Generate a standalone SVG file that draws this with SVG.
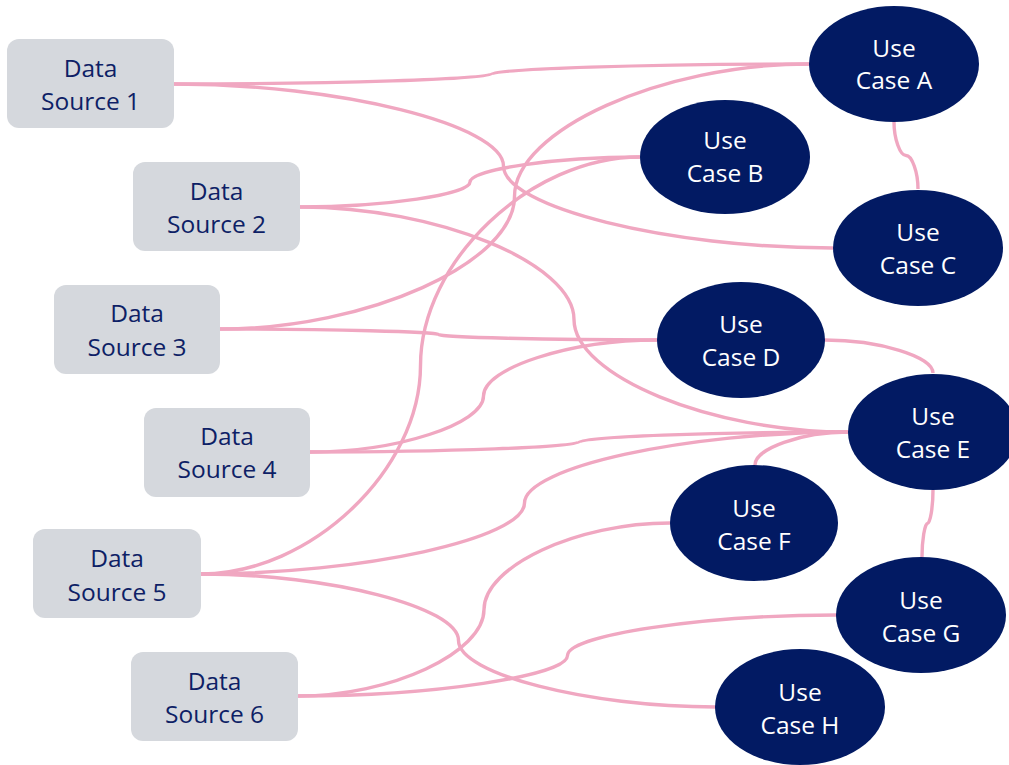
<svg xmlns="http://www.w3.org/2000/svg" width="1009" height="765" viewBox="0 0 1009 765">
<style>
.ds rect{fill:#D5D8DD}
.ds text{fill:#0E1F66;font-family:"Open Sans","Liberation Sans",sans-serif;font-size:24.5px;text-anchor:middle}
.uc ellipse{fill:#021A63}
.uc text{fill:#FFFFFF;font-family:"Open Sans","Liberation Sans",sans-serif;font-size:24.5px;text-anchor:middle}
#connectors path{fill:none;stroke:#F0A7C1;stroke-width:3.4}
</style>
<rect width="1009" height="765" fill="#FFFFFF"/>
<g id="connectors">
<path d="M174,84 C332.75,84 491.5,79 491.5,74 C491.5,69 650.25,64 809,64"/>
<path d="M174,84 C338.75,84 503.5,125 503.5,166 C503.5,207 668.25,248 833,248"/>
<path d="M300,207 C385,207 470,194.5 470,182 C470,169.5 555,157 640,157"/>
<path d="M300,207 C437,207 574,263.25 574,319.5 C574,375.75 711,432 848,432"/>
<path d="M220,329 C367.25,329 514.5,262.75 514.5,196.5 C514.5,130.25 661.75,64 809,64"/>
<path d="M220,329 C329.25,329 438.5,331.75 438.5,334.5 C438.5,337.25 547.75,340 657,340"/>
<path d="M310,452 C396.75,452 483.5,424 483.5,396 C483.5,368 570.25,340 657,340"/>
<path d="M310,452 C444.5,452 579,447 579,442 C579,437 713.5,432 848,432"/>
<path d="M201,574 C310.75,574 420.5,469.75 420.5,365.5 C420.5,261.25 530.25,157 640,157"/>
<path d="M201,574 C362.75,574 524.5,538.5 524.5,503 C524.5,467.5 686.25,432 848,432"/>
<path d="M201,574 C329.75,574 458.5,607.25 458.5,640.5 C458.5,673.75 587.25,707 716,707"/>
<path d="M298,696 C391,696 484,652.75 484,609.5 C484,566.25 577,523 670,523"/>
<path d="M298,696 C432.75,696 567.5,675.75 567.5,655.5 C567.5,635.25 702.25,615 837,615"/>
<path d="M894,122 C894,138.75 900,155.5 906,155.5 C912,155.5 918,172.25 918,189"/>
<path d="M825,340 C879,340 933,356.5 933,373"/>
<path d="M755,465 C755,448.5 801.5,432 848,432"/>
<path d="M933,490 C933,506.75 930.25,523.5 927.5,523.5 C924.75,523.5 922,540.25 922,557"/>
</g>
<g id="ds1" class="ds"><rect x="7" y="39" width="167" height="89" rx="12"/><text x="90.5" y="77">Data</text><text x="90.5" y="110">Source 1</text></g>
<g id="ds2" class="ds"><rect x="133" y="162" width="167" height="89" rx="12"/><text x="216.5" y="200">Data</text><text x="216.5" y="233">Source 2</text></g>
<g id="ds3" class="ds"><rect x="54" y="285" width="166" height="89" rx="12"/><text x="137" y="322">Data</text><text x="137" y="356">Source 3</text></g>
<g id="ds4" class="ds"><rect x="144" y="408" width="166" height="89" rx="12"/><text x="227" y="445">Data</text><text x="227" y="478">Source 4</text></g>
<g id="ds5" class="ds"><rect x="33" y="529" width="168" height="89" rx="12"/><text x="117" y="567">Data</text><text x="117" y="601">Source 5</text></g>
<g id="ds6" class="ds"><rect x="131" y="652" width="167" height="89" rx="12"/><text x="214.5" y="690">Data</text><text x="214.5" y="723">Source 6</text></g>
<g id="ucA" class="uc"><ellipse cx="894" cy="64" rx="85" ry="58"/><text x="894" y="57">Use</text><text x="894" y="89">Case A</text></g>
<g id="ucB" class="uc"><ellipse cx="725" cy="157" rx="85" ry="57"/><text x="725" y="149">Use</text><text x="725" y="182">Case B</text></g>
<g id="ucC" class="uc"><ellipse cx="918" cy="248" rx="85" ry="58"/><text x="918" y="241">Use</text><text x="918" y="274">Case C</text></g>
<g id="ucD" class="uc"><ellipse cx="741" cy="340" rx="84" ry="58"/><text x="741" y="333">Use</text><text x="741" y="366">Case D</text></g>
<g id="ucE" class="uc"><ellipse cx="933" cy="432" rx="85" ry="58"/><text x="933" y="425">Use</text><text x="933" y="458">Case E</text></g>
<g id="ucF" class="uc"><ellipse cx="754" cy="523" rx="84" ry="58"/><text x="754" y="517">Use</text><text x="754" y="550">Case F</text></g>
<g id="ucG" class="uc"><ellipse cx="921" cy="615" rx="85" ry="58"/><text x="921" y="609">Use</text><text x="921" y="642">Case G</text></g>
<g id="ucH" class="uc"><ellipse cx="800" cy="707" rx="85" ry="58"/><text x="800" y="701">Use</text><text x="800" y="734">Case H</text></g>
</svg>
